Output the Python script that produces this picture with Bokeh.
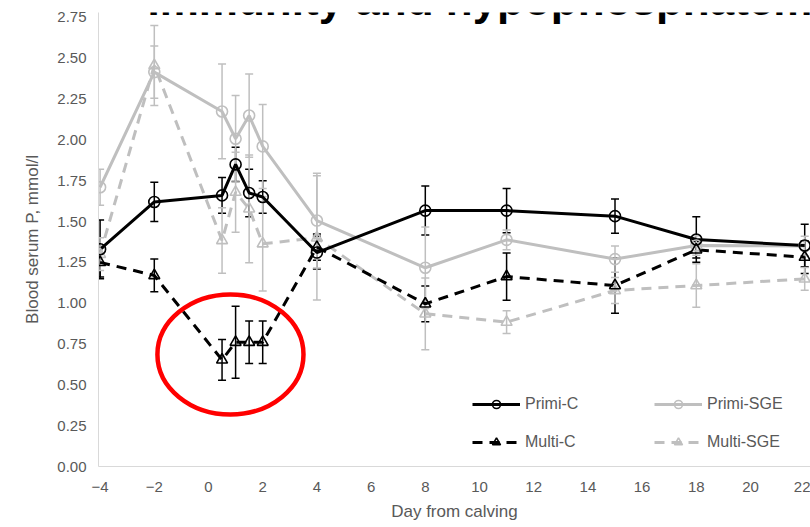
from bokeh.plotting import figure
from bokeh.models import (ColumnDataSource, Whisker, TeeHead, FixedTicker,
                          PrintfTickFormatter, Legend, LegendItem, Label, Range1d)
from bokeh.embed import file_html
from bokeh.resources import INLINE

# ---------------- data ----------------
days = [-4, -2, 0.5, 1, 1.5, 2, 4, 8, 11, 15, 18, 22]
primi_c = [1.33, 1.62, 1.66, 1.85, 1.675, 1.65, 1.31, 1.567, 1.567, 1.533, 1.39, 1.353]
primi_c_se = [0.18, 0.12, 0.11, 0.105, 0.145, 0.10, 0.10, 0.15, 0.135, 0.105, 0.14, 0.13]
primi_sge = [1.71, 2.415, 2.174, 2.007, 2.149, 1.96, 1.506, 1.217, 1.388, 1.27, 1.353, 1.35]
primi_sge_se = [0.11, 0.16, 0.29, 0.265, 0.255, 0.257, 0.29, 0.25, 0.06, 0.08, 0.06, 0.06]
multi_c = [1.25, 1.17, 0.653, 0.761, 0.761, 0.761, 1.343, 0.996, 1.163, 1.108, 1.327, 1.282]
multi_c_se = [0.09, 0.10, 0.125, 0.22, 0.13, 0.13, 0.08, 0.11, 0.145, 0.17, 0.05, 0.10]
multi_sge = [1.30, 2.455, 1.384, 1.68, 1.578, 1.364, 1.40, 0.935, 0.884, 1.078, 1.108, 1.149]
multi_sge_se = [0.10, 0.245, 0.20, 0.245, 0.33, 0.29, 0.38, 0.22, 0.07, 0.08, 0.133, 0.07]

x_ticks = [-4, -2, 0, 2, 4, 6, 8, 10, 12, 14, 16, 18, 20, 22]
y_ticks = [0, 0.25, 0.5, 0.75, 1.0, 1.25, 1.5, 1.75, 2.0, 2.25, 2.5, 2.75]

series_names = ["Primi-C", "Primi-SGE", "Multi-C", "Multi-SGE"]
title_text = "Immunity and hypophosphatemia"

# highlight ring (data units)
ring_x, ring_y, ring_w, ring_h = 0.81, 0.686, 5.39, 0.735

BLACK = "#000000"
GREY = "#bfbfbf"
TXT = "#595959"

p = figure(width=810, height=527, output_backend="svg", toolbar_location=None,
           x_range=Range1d(-4.059, 22.214), y_range=Range1d(0, 2.78),
           min_border_left=98, min_border_right=0, min_border_top=12,
           min_border_bottom=61)
p.outline_line_color = None
p.grid.visible = False
p.background_fill_color = "white"

def src(vals, se):
    return ColumnDataSource(dict(x=days, y=vals,
                                 lo=[v - s for v, s in zip(vals, se)],
                                 hi=[v + s for v, s in zip(vals, se)]))

s_pc = src(primi_c, primi_c_se)
s_ps = src(primi_sge, primi_sge_se)
s_mc = src(multi_c, multi_c_se)
s_ms = src(multi_sge, multi_sge_se)

def whisk(s, color):
    w = Whisker(source=s, base="x", upper="hi", lower="lo", line_color=color,
                line_width=1.5,
                upper_head=TeeHead(size=8, line_color=color, line_width=1.5),
                lower_head=TeeHead(size=8, line_color=color, line_width=1.5))
    p.add_layout(w)

whisk(s_pc, BLACK)
whisk(s_mc, BLACK)
whisk(s_ps, GREY)
whisk(s_ms, GREY)

l_ms = p.line("x", "y", source=s_ms, line_color=GREY, line_width=3, line_dash="10 7")
l_ps = p.line("x", "y", source=s_ps, line_color=GREY, line_width=3)
l_mc = p.line("x", "y", source=s_mc, line_color=BLACK, line_width=3, line_dash="10 7")
l_pc = p.line("x", "y", source=s_pc, line_color=BLACK, line_width=3)

m_ms = p.scatter("x", "y", source=s_ms, marker="triangle", size=11, fill_color=None,
                 line_color=GREY, line_width=1.6)
m_ps = p.scatter("x", "y", source=s_ps, marker="circle", size=11, fill_color=None,
                 line_color=GREY, line_width=1.6)
m_mc = p.scatter("x", "y", source=s_mc, marker="triangle", size=11, fill_color=None,
                 line_color=BLACK, line_width=1.6)
m_pc = p.scatter("x", "y", source=s_pc, marker="circle", size=11, fill_color=None,
                 line_color=BLACK, line_width=1.6)

# red highlight ring
p.ellipse(x=[ring_x], y=[ring_y], width=[ring_w], height=[ring_h],
          fill_color=None, line_color="#ff0000", line_width=4.5)

# axes
for ax in (p.xaxis[0], p.yaxis[0]):
    ax.axis_line_color = "#d9d9d9"
    ax.axis_line_width = 1
    ax.major_tick_line_color = None
    ax.minor_tick_line_color = None
    ax.major_tick_out = 0
    ax.major_tick_in = 0
    ax.minor_tick_out = 0
    ax.minor_tick_in = 0
    ax.major_label_text_color = TXT
    ax.major_label_text_font = "Liberation Sans"
    ax.major_label_text_font_size = "15px"
    ax.axis_label_text_color = TXT
    ax.axis_label_text_font = "Liberation Sans"
    ax.axis_label_text_font_size = "17px"
    ax.axis_label_text_font_style = "normal"

p.xaxis.ticker = FixedTicker(ticks=x_ticks)
p.yaxis.ticker = FixedTicker(ticks=y_ticks)
p.yaxis.formatter = PrintfTickFormatter(format="%.2f")
p.xaxis.axis_label = "Day from calving"
p.yaxis.axis_label = "Blood serum P, mmol/l"
p.xaxis.major_label_standoff = 15
p.yaxis.major_label_standoff = 12
p.xaxis.axis_label_standoff = 7
p.yaxis.axis_label_standoff = 12

# legends (two columns)
def make_legend(items, x, y):
    lg = Legend(items=items, location=(x, y), orientation="vertical",
                glyph_width=48, glyph_height=20, label_standoff=5, spacing=18,
                padding=0, margin=0, border_line_color=None,
                background_fill_alpha=0, label_text_color=TXT,
                label_text_font="Liberation Sans", label_text_font_size="16px",
                label_height=20)
    p.add_layout(lg, "center")

make_legend([LegendItem(label=series_names[0], renderers=[l_pc, m_pc]),
             LegendItem(label=series_names[2], renderers=[l_mc, m_mc])], 374, 14)
make_legend([LegendItem(label=series_names[1], renderers=[l_ps, m_ps]),
             LegendItem(label=series_names[3], renderers=[l_ms, m_ms])], 556, 14)

# slide title, cut off at the top edge as in the reference
p.add_layout(Label(x=-2.25, y=2.86, text=title_text, text_font="Liberation Sans",
                   text_font_style="bold", text_font_size="44px", text_color=BLACK,
                   text_baseline="alphabetic"))

open("out.html", "w").write(file_html(p, INLINE))
